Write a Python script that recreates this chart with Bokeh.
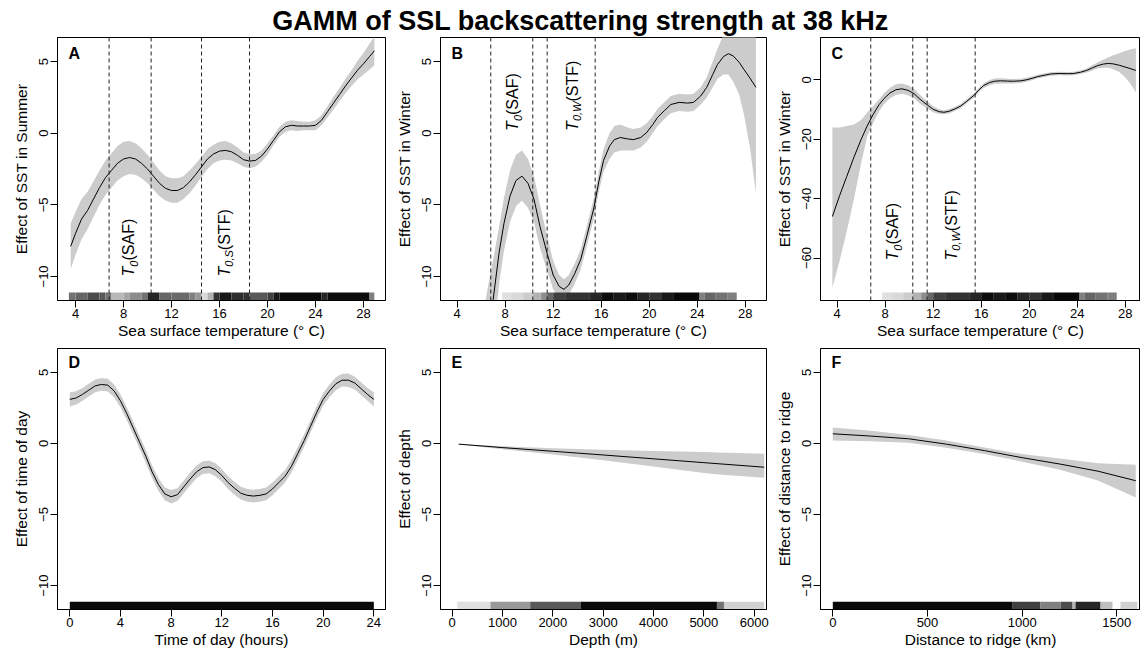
import math
from bokeh.plotting import figure
from bokeh.layouts import column, row
from bokeh.models import FixedTicker, Range1d, Span
from bokeh.core.properties import value
from bokeh.embed import file_html
from bokeh.resources import INLINE

FONT = "Liberation Sans"
TITLE = "GAMM of SSL backscattering strength at 38 kHz"

# ---------------- data ----------------
# Panel A: SST in summer
sst_s = [3.6, 4.0, 4.5, 5.0, 5.5, 6.0, 6.5, 7.0, 7.5, 8.0, 8.5, 9.0, 9.5, 10.0, 10.5, 11.0,
         11.5, 12.0, 12.5, 13.0, 13.5, 14.0, 14.5, 15.0, 15.5, 16.0, 16.5, 17.0, 17.5, 18.0,
         18.5, 19.0, 19.5, 20.0, 20.5, 21.0, 21.5, 22.0, 22.5, 23.0, 23.5, 24.0, 24.5, 25.0,
         25.5, 26.0, 26.5, 27.0, 27.5, 28.0, 28.5, 28.9]
fit_s = [-7.9, -7.0, -6.0, -5.4, -4.6, -3.8, -3.1, -2.6, -2.1, -1.8, -1.7, -1.8, -2.1, -2.5,
         -3.0, -3.5, -3.85, -4.0, -4.0, -3.8, -3.4, -2.9, -2.35, -1.8, -1.45, -1.25, -1.2, -1.3,
         -1.55, -1.85, -1.95, -1.9, -1.6, -1.1, -0.5, 0.1, 0.45, 0.55, 0.5, 0.5, 0.5, 0.55, 0.9,
         1.5, 2.1, 2.7, 3.3, 3.85, 4.4, 4.85, 5.35, 5.75]
hw_s = [1.6, 1.5, 1.4, 1.3, 1.25, 1.2, 1.2, 1.2, 1.2, 1.2, 1.15, 1.1, 1.05, 1.0, 0.95, 0.9,
        0.85, 0.85, 0.85, 0.8, 0.8, 0.75, 0.7, 0.7, 0.65, 0.65, 0.65, 0.6, 0.55, 0.5, 0.5, 0.45,
        0.4, 0.4, 0.35, 0.35, 0.35, 0.35, 0.35, 0.3, 0.3, 0.35, 0.35, 0.4, 0.45, 0.45, 0.5, 0.55,
        0.65, 0.75, 0.9, 1.0]

# Panels B and C: SST in winter (same smooth, two y scales)
sst_w = [3.6, 4.2, 4.8, 5.4, 6.0, 6.5, 7.0, 7.5, 7.9, 8.4, 8.9, 9.4, 9.9, 10.4, 10.9, 11.5,
         12.0, 12.5, 12.9, 13.3, 13.8, 14.3, 14.8, 15.4, 15.8, 16.2, 16.7, 17.1, 17.6, 18.2,
         18.7, 19.3, 19.8, 20.3, 20.7, 21.3, 21.8, 22.5, 23.2, 23.7, 24.3, 24.8, 25.3, 25.7,
         26.2, 26.6, 27.0, 27.5, 27.9, 28.4, 28.9]
fit_w = [-46, -39, -32.5, -26, -20, -15.5, -11.6, -8.3, -6.3, -4.4, -3.3, -3.0, -3.5, -4.6,
         -6.5, -8.4, -9.9, -10.7, -10.9, -10.6, -9.8, -8.8, -7.2, -5.2, -3.4, -1.9, -0.9, -0.45,
         -0.3, -0.4, -0.45, -0.3, 0.05, 0.6, 1.1, 1.6, 2.0, 2.15, 2.1, 2.15, 2.6, 3.2, 4.1, 4.8,
         5.35, 5.55, 5.4, 4.95, 4.45, 3.85, 3.2]
up_w = [-16, -16, -15.5, -15, -13.5, -11.0, -8.8, -6.5, -4.5, -2.6, -1.5, -1.2, -1.8, -3.0,
        -5.0, -7.2, -8.9, -9.9, -10.2, -9.9, -9.1, -8.1, -6.5, -4.5, -2.7, -1.1, 0.0, 0.5, 0.6,
        0.4, 0.3, 0.4, 0.7, 1.2, 1.7, 2.2, 2.6, 2.75, 2.7, 2.75, 3.2, 3.9, 5.0, 5.9, 6.9, 7.6,
        8.3, 9.0, 9.6, 10.2, 10.7]
lo_w = [-70, -61, -51, -40, -28, -19, -14.5, -10.5, -8.2, -6.2, -5.1, -4.7, -5.2, -6.2, -8.0,
        -9.6, -10.9, -11.5, -11.6, -11.3, -10.5, -9.5, -7.9, -5.9, -4.1, -2.7, -1.8, -1.35, -1.2,
        -1.2, -1.2, -1.0, -0.6, 0.0, 0.5, 1.0, 1.4, 1.55, 1.5, 1.55, 2.0, 2.5, 3.2, 3.8, 4.1,
        4.1, 3.6, 2.7, 1.3, -1.0, -4.2]

# Panel D: time of day
tod = [0, 0.5, 1, 1.5, 2, 2.5, 3, 3.5, 4, 4.5, 5, 5.5, 6, 6.5, 7, 7.5, 8, 8.5, 9, 9.5, 10,
       10.5, 11, 11.5, 12, 12.5, 13, 13.5, 14, 14.5, 15, 15.5, 16, 16.5, 17, 17.5, 18, 18.5,
       19, 19.5, 20, 20.5, 21, 21.5, 22, 22.5, 23, 23.5, 24]
fit_d = [3.1, 3.2, 3.45, 3.75, 4.05, 4.15, 4.1, 3.7, 3.0, 2.1, 1.1, 0.1, -0.9, -2.0, -2.9,
         -3.55, -3.75, -3.6, -3.05, -2.5, -2.0, -1.7, -1.65, -1.85, -2.25, -2.75, -3.15, -3.5,
         -3.65, -3.7, -3.65, -3.55, -3.2, -2.75, -2.3, -1.6, -0.7, 0.2, 1.2, 2.2, 3.1, 3.7, 4.2,
         4.45, 4.45, 4.25, 3.85, 3.45, 3.1]
hw_d = [0.5, 0.48, 0.45, 0.45, 0.45, 0.45, 0.45, 0.45, 0.45, 0.45, 0.45, 0.45, 0.45, 0.45,
        0.45, 0.45, 0.48, 0.45, 0.45, 0.45, 0.45, 0.45, 0.45, 0.45, 0.45, 0.45, 0.45, 0.45, 0.45,
        0.45, 0.45, 0.45, 0.45, 0.45, 0.45, 0.45, 0.45, 0.45, 0.45, 0.45, 0.45, 0.45, 0.45, 0.45,
        0.48, 0.45, 0.45, 0.45, 0.5]

# Panel E: depth
depth = [130, 1000, 2000, 3000, 4000, 5000, 5300, 6200]
fit_e = [-0.05, -0.29, -0.55, -0.81, -1.08, -1.35, -1.43, -1.67]
up_e = [-0.05, -0.2, -0.33, -0.44, -0.53, -0.6, -0.63, -0.72]
lo_e = [-0.05, -0.4, -0.78, -1.18, -1.62, -2.08, -2.18, -2.42]

# Panel F: distance to ridge
dist = [0, 200, 400, 600, 800, 1000, 1200, 1400, 1600]
fit_f = [0.68, 0.52, 0.33, -0.05, -0.5, -1.0, -1.45, -1.95, -2.62]
up_f = [1.13, 0.9, 0.6, 0.2, -0.28, -0.75, -1.05, -1.4, -1.5]
lo_f = [0.2, 0.15, 0.05, -0.3, -0.75, -1.28, -1.85, -2.6, -3.8]

# Rug densities (bin start, bin end, darkness 0..1)
rug_s_x0 = [3.45, 4.0, 5.0, 6.0, 6.5, 7.0, 8.0, 8.5, 9.5, 10.0, 11.0, 12.0, 13.5, 14.0, 14.5,
            15.0, 15.5, 16.0, 17.0, 18.0, 18.5, 20.0, 20.5, 21.0, 24.5, 25.0, 28.5]
rug_s_x1 = [4.0, 5.0, 6.0, 6.5, 7.0, 8.0, 8.5, 9.5, 10.0, 11.0, 12.0, 13.5, 14.0, 14.5, 15.0,
            15.5, 16.0, 17.0, 18.0, 18.5, 20.0, 20.5, 21.0, 24.5, 25.0, 28.5, 28.9]
rug_s_d = [0.55, 0.6, 0.7, 0.65, 0.55, 0.28, 0.35, 0.45, 0.55, 0.85, 0.6, 0.58, 0.5, 0.4,
           0.15, 0.3, 0.8, 0.9, 0.82, 0.8, 0.65, 0.75, 0.9, 0.96, 0.85, 0.95, 0.5]

rug_w_x0 = [7.75, 8.5, 9.5, 10.3, 11.0, 11.5, 12.0, 13.0, 15.0, 16.0, 17.0, 18.0, 19.0, 20.0,
            21.0, 22.0, 24.2, 24.6, 25.5, 26.5]
rug_w_x1 = [8.5, 9.5, 10.3, 11.0, 11.5, 12.0, 13.0, 15.0, 16.0, 17.0, 18.0, 19.0, 20.0, 21.0,
            22.0, 24.2, 24.6, 25.5, 26.5, 27.3]
rug_w_d = [0.12, 0.15, 0.2, 0.3, 0.45, 0.6, 0.75, 0.8, 0.85, 0.95, 0.9, 0.95, 0.85, 0.8, 0.9,
           0.97, 0.5, 0.6, 0.55, 0.5]

rug_d_x0 = [0.0]
rug_d_x1 = [24.0]
rug_d_d = [0.96]

rug_e_x0 = [100, 760, 1550, 2550, 5260, 5400]
rug_e_x1 = [760, 1550, 2550, 5260, 5400, 6200]
rug_e_d = [0.12, 0.4, 0.65, 0.96, 0.55, 0.18]

rug_f_x0 = [0, 950, 1097, 1203, 1266, 1282, 1414, 1519]
rug_f_x1 = [950, 1097, 1203, 1266, 1282, 1414, 1477, 1608]
rug_f_d = [0.96, 0.75, 0.5, 0.7, 0.3, 0.85, 0.25, 0.18]

# Front temperatures (dashed lines)
fronts_s = [6.8, 10.3, 14.5, 18.5]
fronts_w = [6.8, 10.3, 11.5, 15.5]

# Character widths (em) for placing mixed-style labels
CW = {"T": 0.611, "0": 0.556, ",": 0.278, "S": 0.667, "W": 0.944, "(": 0.333, ")": 0.333,
      "A": 0.667, "F": 0.611}

BAND = "#cccccc"


def gray(s):
    v = int(round(255 * (1 - s)))
    return "#%02x%02x%02x" % (v, v, v)


def minus(ticks):
    return {t: (("\u2212" + str(abs(t))) if t < 0 else str(t)) for t in ticks}


def make_panel(letter, xr, yr, xticks, yticks, xlabel, ylabel, w, h, bl, br, bt, bb, lety):
    p = figure(width=w, height=h, x_range=Range1d(*xr), y_range=Range1d(*yr), title=None,
               min_border_left=bl, min_border_right=br, min_border_top=bt,
               min_border_bottom=bb, output_backend="svg", toolbar_location=None)
    p.grid.visible = False
    p.outline_line_color = "black"
    p.outline_line_alpha = 1.0
    p.outline_line_width = 1
    for ax, ticks in ((p.xaxis, xticks), (p.yaxis, yticks)):
        ax.ticker = FixedTicker(ticks=ticks)
        ax.major_tick_in = 0
        ax.major_tick_out = 7
        ax.minor_tick_in = 0
        ax.minor_tick_out = 0
        ax.major_tick_line_color = "black"
        ax.axis_line_color = "black"
        ax.major_label_text_font = FONT
        ax.major_label_text_font_size = "13px"
        ax.major_label_text_color = "black"
        ax.axis_label_text_font = FONT
        ax.axis_label_text_font_size = "15.5px"
        ax.axis_label_text_font_style = "normal"
        ax.axis_label_text_color = "black"
        ax.major_label_overrides = minus(ticks)
    p.xaxis.axis_label = xlabel
    p.yaxis.axis_label = ylabel
    p.yaxis.major_label_orientation = "vertical"
    p.xaxis.major_label_standoff = 1
    p.yaxis.major_label_standoff = 2
    p.xaxis.axis_label_standoff = 1
    p.yaxis.axis_label_standoff = 7
    fw = w - bl - br
    fh = h - bt - bb
    ux = (xr[1] - xr[0]) / fw
    uy = (yr[1] - yr[0]) / fh
    p.text(x=[xr[0] + 11 * ux], y=[yr[1] - lety * uy], text=[letter],
           text_font=value(FONT), text_font_size="16px", text_font_style="bold",
           text_align="left", text_baseline="middle", text_color="black")
    return p, ux, uy


def draw_smooth(p, x, fit, lo, up):
    p.varea(x=x, y1=lo, y2=up, fill_color=BAND, fill_alpha=1.0)
    p.line(x=x, y=fit, line_color="black", line_width=1)


def draw_rug(p, yr, x0, x1, dark):
    h = 0.03 * (yr[1] - yr[0])
    p.quad(left=x0, right=x1, bottom=[yr[0]] * len(x0), top=[yr[0] + h] * len(x0),
           fill_color=[gray(d) for d in dark], line_color=None)


def draw_fronts(p, locs):
    for v in locs:
        p.add_layout(Span(location=v, dimension="height", line_color="#222222",
                          line_width=1, line_dash="4 3"))


def front_label(p, xc, y0, sub, name, ux, uy, size=16):
    sub_size = 11
    parts = [("T", size, "italic", 0.0), (sub, sub_size, "italic", 5.0), (name, size, "normal", 0.0)]
    pos = 0.0
    for txt, sz, style, shift in parts:
        p.text(x=[xc + shift * ux], y=[y0 + pos * uy], text=[txt], angle=math.pi / 2,
               text_font=value(FONT), text_font_size=f"{sz}px", text_font_style=style,
               text_align="left", text_baseline="middle", text_color="black")
        pos += sz * sum(CW.get(c, 0.55) for c in txt)


SST_LABEL = "Sea surface temperature (\u00b0 C)"
sst_ticks = [4, 8, 12, 16, 20, 24, 28]
y_std = (-11.68, 6.68)
y_c = (-74.28, 14.28)

# Row 1 (frames: A 57-385, B 440-766, C 820-1140; y 37-300)
pA, uxA, uyA = make_panel("A", (2.5, 29.83), y_std, sst_ticks, [-10, -5, 0, 5], SST_LABEL,
                          "Effect of SST in Summer", 389, 308, 57, 4, 1, 44, 15.5)
draw_smooth(pA, sst_s, fit_s, [f - h for f, h in zip(fit_s, hw_s)],
            [f + h for f, h in zip(fit_s, hw_s)])
draw_rug(pA, y_std, rug_s_x0, rug_s_x1, rug_s_d)
draw_fronts(pA, fronts_s)
front_label(pA, 8.45, -10.0, "0", "(SAF)", uxA, uyA)
front_label(pA, 16.4, -10.0, "0,S", "(STF)", uxA, uyA)

pB, uxB, uyB = make_panel("B", (2.61, 29.78), y_std, sst_ticks, [-10, -5, 0, 5], SST_LABEL,
                          "Effect of SST in Winter", 381, 308, 51, 4, 1, 44, 15.5)
draw_smooth(pB, sst_w, fit_w, lo_w, up_w)
draw_rug(pB, y_std, rug_w_x0, rug_w_x1, rug_w_d)
draw_fronts(pB, fronts_w)
front_label(pB, 8.64, 0.16, "0", "(SAF)", uxB, uyB)
front_label(pB, 13.58, 0.16, "0,W", "(STF)", uxB, uyB)

pC, uxC, uyC = make_panel("C", (2.61, 29.28), y_c, sst_ticks, [-60, -40, -20, 0], SST_LABEL,
                          "Effect of SST in Winter", 370, 308, 50, 0, 1, 44, 15.5)
draw_smooth(pC, sst_w, fit_w, lo_w, up_w)
draw_rug(pC, y_c, rug_w_x0, rug_w_x1, rug_w_d)
draw_fronts(pC, fronts_w)
front_label(pC, 8.64, -60.8, "0", "(SAF)", uxC, uyC)
front_label(pC, 13.5, -60.8, "0,W", "(STF)", uxC, uyC)

# Row 2 (y 348-609)
pD, _, _ = make_panel("D", (-0.97, 24.92), y_std, [0, 4, 8, 12, 16, 20, 24], [-10, -5, 0, 5],
                      "Time of day (hours)", "Effect of time of day", 389, 311, 57, 4, 4, 46, 14)
draw_smooth(pD, tod, fit_d, [f - h for f, h in zip(fit_d, hw_d)],
            [f + h for f, h in zip(fit_d, hw_d)])
draw_rug(pD, y_std, rug_d_x0, rug_d_x1, rug_d_d)

pE, _, _ = make_panel("E", (-232, 6245), y_std, [0, 1000, 2000, 3000, 4000, 5000, 6000],
                      [-10, -5, 0, 5], "Depth (m)", "Effect of depth", 381, 311, 51, 4, 4, 46, 14)
draw_smooth(pE, depth, fit_e, lo_e, up_e)
draw_rug(pE, y_std, rug_e_x0, rug_e_x1, rug_e_d)

pF, _, _ = make_panel("F", (-65, 1625), y_std, [0, 500, 1000, 1500], [-10, -5, 0, 5],
                      "Distance to ridge (km)", "Effect of distance to ridge", 370, 311, 50, 0, 4, 46, 14)
draw_smooth(pF, dist, fit_f, lo_f, up_f)
draw_rug(pF, y_std, rug_f_x0, rug_f_x1, rug_f_d)

# Header with the overall title
head = figure(width=1140, height=36, x_range=Range1d(0, 1140), y_range=Range1d(0, 36),
              title=None, min_border=0, output_backend="svg", toolbar_location=None)
head.axis.visible = False
head.grid.visible = False
head.outline_line_color = None
head.text(x=[580], y=[15.5], text=[TITLE], text_font=value(FONT), text_font_size="27px",
          text_font_style="bold", text_align="center", text_baseline="middle",
          text_color="black")

layout = column(head, row(pA, pB, pC), row(pD, pE, pF))
open("out.html", "w").write(file_html(layout, INLINE))
